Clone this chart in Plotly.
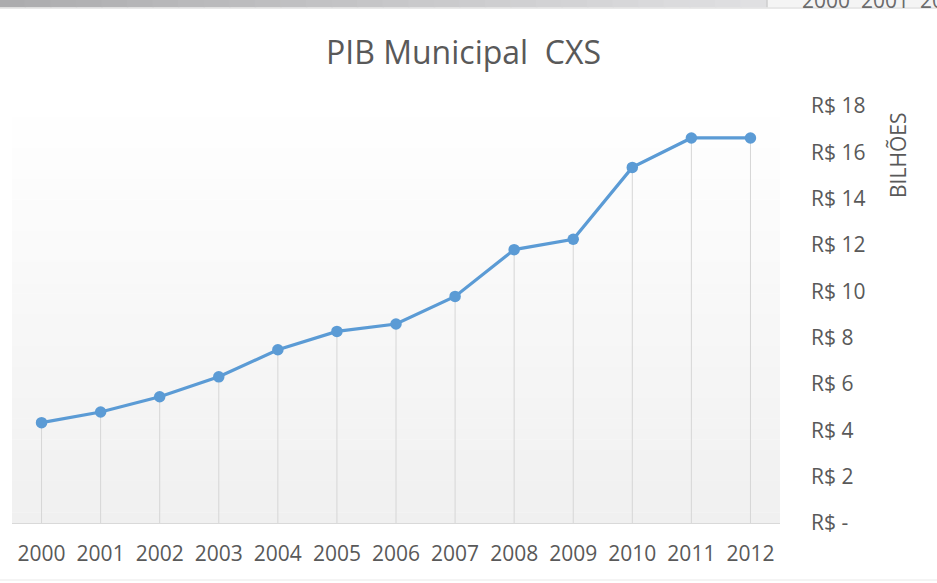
import plotly.graph_objects as go

# ---- data ----
years = ["2000", "2001", "2002", "2003", "2004", "2005", "2006",
         "2007", "2008", "2009", "2010", "2011", "2012"]
pib_bilhoes = [4.33, 4.79, 5.45, 6.31, 7.48, 8.27, 8.59,
               9.78, 11.80, 12.25, 15.35, 16.62, 16.62]
y_tickvals = [0, 2, 4, 6, 8, 10, 12, 14, 16, 18]
y_ticktext = ["R$ -", "R$ 2", "R$ 4", "R$ 6", "R$ 8", "R$ 10",
              "R$ 12", "R$ 14", "R$ 16", "R$ 18"]
title_text = "PIB Municipal  CXS"
axis_title = "BILHÕES"
top_strip_text = "2000  2001  20"

FONT = "Open Sans"
GRAY_TXT = "#595959"
LINE_BLUE = "#5b9bd5"

W, H = 937, 583
L, R, T, B = 12, 157, 106, 60

fig = go.Figure()

# drop lines from each point down to the axis
dx, dy = [], []
for yr, v in zip(years, pib_bilhoes):
    dx += [yr, yr, None]
    dy += [0, v, None]
fig.add_trace(go.Scatter(x=dx, y=dy, mode="lines",
                         line=dict(color="#d6d6d6", width=1),
                         hoverinfo="skip", showlegend=False))

# main series
fig.add_trace(go.Scatter(x=years, y=pib_bilhoes, mode="lines+markers",
                         line=dict(color=LINE_BLUE, width=3.2),
                         marker=dict(color=LINE_BLUE, size=11.5),
                         showlegend=False))

shapes = []
# gradient plot-area background (white at top -> light gray at bottom)
n = 40
for i in range(n):
    y0 = i / n
    y1 = (i + 1) / n
    t = 1 - (y0 + y1) / 2  # 0 at top, 1 at bottom
    g = int(round(255 - 15 * t))
    shapes.append(dict(type="rect", xref="paper", yref="paper",
                       x0=0, x1=1, y0=y0, y1=y1 + 0.001,
                       fillcolor=f"rgb({g},{g},{g})", line=dict(width=0),
                       layer="below"))

ph = H - T - B
def py(pix):
    return (H - B - pix) / ph
def px(pix):
    return (pix - L) / (W - L - R)

# top screenshot strip (gray bar)
m = 30
for i in range(m):
    xa = i * 767 / m
    xb = (i + 1) * 767 / m
    g = int(round(172 + 52 * (i / (m - 1))))
    shapes.append(dict(type="rect", xref="paper", yref="paper",
                       x0=px(xa - 1), x1=px(xb + 0.5), y0=py(7.5), y1=py(-2),
                       fillcolor=f"rgb({g},{g},{g+2})", line=dict(width=0),
                       layer="above"))
shapes.append(dict(type="rect", xref="paper", yref="paper",
                   x0=px(767), x1=px(940), y0=py(7.5), y1=py(-2),
                   fillcolor="#f4f4f4", line=dict(width=0), layer="below"))
shapes.append(dict(type="line", xref="paper", yref="paper",
                   x0=px(767), x1=px(767), y0=py(7.5), y1=py(-2),
                   line=dict(color="#c4c4c4", width=1), layer="above"))
shapes.append(dict(type="line", xref="paper", yref="paper",
                   x0=px(-2), x1=px(940), y0=py(8), y1=py(8),
                   line=dict(color="#e0e0e0", width=1.5), layer="above"))
# faint bottom edge
shapes.append(dict(type="line", xref="paper", yref="paper",
                   x0=px(-2), x1=px(940), y0=py(580), y1=py(580),
                   line=dict(color="#f0f0f0", width=1.5), layer="above"))

annotations = [
    dict(text=axis_title, textangle=-90, xref="paper", yref="paper",
         x=px(898), y=py(156), xanchor="center", yanchor="middle",
         showarrow=False, font=dict(family=FONT, size=21, color=GRAY_TXT)),
    dict(text=top_strip_text, xref="paper", yref="paper",
         x=px(800), y=py(0), xanchor="left", yanchor="middle",
         showarrow=False, font=dict(family=FONT, size=21, color="#6b6b6b")),
]

fig.update_layout(
    width=W, height=H,
    margin=dict(l=L, r=R, t=T, b=B, pad=0),
    paper_bgcolor="white", plot_bgcolor="white",
    title=dict(text=title_text, x=(325 + 602) / 2 / W, xanchor="center",
               y=1 - 53 / H, yanchor="middle",
               font=dict(family=FONT, size=32, color=GRAY_TXT)),
    font=dict(family=FONT, size=21, color=GRAY_TXT),
    shapes=shapes, annotations=annotations,
    xaxis=dict(type="category", range=[-0.5, len(years) - 0.5],
               showgrid=False, zeroline=False,
               showline=True, linecolor="#d9d9d9", linewidth=1,
               ticks="", ticklabelstandoff=12,
               tickfont=dict(family=FONT, size=21, color=GRAY_TXT)),
    yaxis=dict(range=[0, 18], side="right", showgrid=False, zeroline=False,
               showline=False, tickvals=y_tickvals, ticktext=y_ticktext,
               ticks="", ticklabelstandoff=30,
               tickfont=dict(family=FONT, size=21, color=GRAY_TXT)),
)

fig.write_html("out.html",
               config={"displayModeBar": False},
               post_script="document.body.style.margin='0';"
                           "document.body.style.overflow='hidden';")
